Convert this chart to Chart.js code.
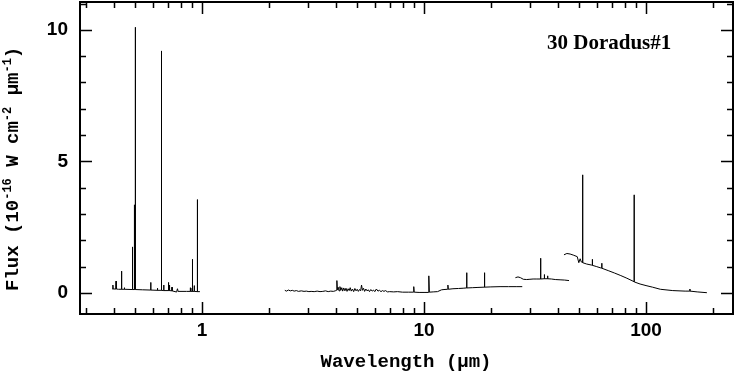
<!DOCTYPE html>
<html>
<head>
<meta charset="utf-8">
<script src="https://cdn.jsdelivr.net/npm/chart.js@4.4.0/dist/chart.umd.min.js"></script>
<style>
body { margin: 0; background: #fff; }
</style>
</head>
<body>
<canvas id="myChart" width="735" height="372"></canvas>
<script>
// Optical spectrum (0.39 - 0.98 um)
const optWave = [0.394, 0.3965, 0.3970, 0.3975, 0.4095, 0.4101, 0.4107, 0.4200, 0.4334, 0.4340, 0.4346,
    0.4465, 0.4471, 0.4477, 0.4855, 0.4861, 0.4866, 0.4954, 0.4959, 0.4964, 0.5002, 0.5007, 0.5012,
    0.5400, 0.5870, 0.5876, 0.5882, 0.6294, 0.6300, 0.6306, 0.6540, 0.6548, 0.6556, 0.6558, 0.6563, 0.6568,
    0.6579, 0.6584, 0.6589, 0.6712, 0.6720, 0.6735, 0.7060, 0.7065, 0.7070, 0.7130, 0.7136, 0.7142,
    0.7320, 0.7325, 0.7330, 0.7640, 0.7700, 0.7751, 0.7800, 0.8500, 0.8860, 0.8863, 0.8866,
    0.9010, 0.9015, 0.9020, 0.9063, 0.9069, 0.9075, 0.9225, 0.9229, 0.9233, 0.9525, 0.9531, 0.9537, 0.9780];
const optFlux = [0.15, 0.15, 0.30, 0.15, 0.15, 0.45, 0.15, 0.14, 0.14, 0.83, 0.14,
    0.14, 0.20, 0.14, 0.13, 1.75, 0.13, 0.13, 3.35, 0.13, 0.13, 10.1, 0.13,
    0.12, 0.11, 0.40, 0.11, 0.10, 0.18, 0.10, 0.10, 0.22, 0.10, 0.10, 9.2, 0.10,
    0.10, 0.50, 0.10, 0.09, 0.30, 0.09, 0.09, 0.40, 0.09, 0.09, 0.30, 0.09,
    0.08, 0.22, 0.08, 0.04, 0.08, 0.16, 0.06, 0.06, 0.06, 0.20, 0.06,
    0.06, 0.18, 0.06, 0.06, 1.28, 0.06, 0.06, 0.28, 0.06, 0.05, 3.55, 0.05, 0.05];

// ISO SWS (2.4 - 27.7 um)
const swsWave = [2.36, 2.40, 2.45, 2.50, 2.55, 2.60, 2.66, 2.72, 2.80, 2.88, 2.95, 3.03, 3.10, 3.20, 3.30,
    3.40, 3.50, 3.60, 3.70, 3.80, 3.90, 3.98, 4.03, 4.05, 4.07, 4.10, 4.14, 4.18, 4.22, 4.26, 4.30,
    4.35, 4.40, 4.45, 4.50, 4.55, 4.60, 4.65, 4.70, 4.76, 4.82, 4.88, 4.94, 5.00, 5.06, 5.12, 5.18,
    5.23, 5.28, 5.34, 5.40, 5.47, 5.54, 5.61, 5.68, 5.76, 5.84, 5.92, 6.00, 6.10, 6.20, 6.30, 6.40,
    6.50, 6.60, 6.70, 6.85, 7.00, 7.30, 7.60, 8.00, 8.50, 8.95, 8.99, 9.03, 9.50, 10.0, 10.45, 10.51,
    10.57, 11.0, 11.5, 12.0, 12.3, 12.75, 12.81, 12.87, 13.5, 14.3, 15.0, 15.49, 15.55, 15.61, 16.5,
    17.5, 18.65, 18.71, 18.77, 20.0, 22.0, 24.0, 26.0, 27.7];
const swsFlux = [0.10, 0.07, 0.11, 0.08, 0.10, 0.07, 0.09, 0.06, 0.08, 0.06, 0.07, 0.05, 0.06, 0.05, 0.07,
    0.05, 0.06, 0.08, 0.05, 0.07, 0.06, 0.08, 0.10, 0.47, 0.12, 0.22, 0.08, 0.24, 0.10, 0.20, 0.07,
    0.19, 0.08, 0.18, 0.06, 0.16, 0.09, 0.20, 0.07, 0.15, 0.05, 0.17, 0.08, 0.14, 0.06, 0.13, 0.08,
    0.30, 0.10, 0.18, 0.06, 0.15, 0.08, 0.12, 0.05, 0.13, 0.07, 0.11, 0.05, 0.15, 0.07, 0.10, 0.05,
    0.09, 0.06, 0.09, 0.04, 0.05, 0.04, 0.05, 0.03, 0.03, 0.03, 0.24, 0.03, 0.02, 0.02, 0.02, 0.65,
    0.03, 0.04, 0.05, 0.12, 0.13, 0.14, 0.30, 0.14, 0.16, 0.17, 0.18, 0.19, 0.77, 0.19, 0.20,
    0.21, 0.22, 0.77, 0.22, 0.23, 0.24, 0.24, 0.24, 0.24];

// ISO SWS band 4 (26 - 45 um)
const sws4Wave = [25.8, 26.5, 27.2, 28.0, 29.0, 30.0, 31.0, 32.0, 33.35, 33.48, 33.6, 34.72, 34.82, 34.92,
    35.9, 36.01, 36.12, 37.5, 39.0, 41.0, 43.0, 45.0];
const sws4Flux = [0.58, 0.61, 0.58, 0.52, 0.51, 0.52, 0.53, 0.53, 0.53, 1.32, 0.53, 0.54, 0.70, 0.54,
    0.54, 0.65, 0.54, 0.53, 0.51, 0.50, 0.49, 0.47];

// ISO LWS (43 - 190 um)
const lwsWave = [42.7, 44.0, 45.5, 47.0, 49.0, 49.8, 50.5, 51.1, 51.7, 51.8, 51.9, 54.0, 56.8, 57.2, 57.3, 57.4,
    60.0, 62.6, 63.1, 63.2, 63.3, 68.0, 72.0, 77.0, 82.0, 88.3, 88.4, 88.5, 94.0, 100, 107, 116, 132,
    150, 157.5, 157.7, 157.9, 170, 188];
const lwsFlux = [1.45, 1.50, 1.48, 1.44, 1.38, 1.15, 1.30, 1.18, 1.16, 4.49, 1.15, 1.10, 1.06, 1.05, 1.28, 1.05,
    1.00, 0.95, 0.95, 1.13, 0.94, 0.84, 0.76, 0.66, 0.56, 0.43, 3.73, 0.42, 0.34, 0.28, 0.22, 0.14, 0.09,
    0.07, 0.07, 0.15, 0.07, 0.04, 0.01];

// Axis ticks
const xMajorTicks = [1, 10, 100];
const xMinorTicks = [0.3, 0.4, 0.5, 0.6, 0.7, 0.8, 0.9, 2, 3, 4, 5, 6, 7, 8, 9,
    20, 30, 40, 50, 60, 70, 80, 90, 200];
const yMajorTicks = [0, 5, 10];
const yMinorTicks = [1, 2, 3, 4, 6, 7, 8, 9, 11];

const toPoints = (w, f) => w.map((x, i) => ({x: x, y: f[i]}));

function segment(w, f) {
    return {
        data: toPoints(w, f),
        borderColor: '#000',
        borderWidth: 1,
        pointRadius: 0,
        tension: 0,
        fill: false
    };
}

// inward ticks on all four sides, the frame and the texts
const framePlugin = {
    id: 'frame',
    afterDatasetsDraw(chart) {
        const ctx = chart.ctx;
        const a = chart.chartArea;
        const xs = chart.scales.x;
        const ys = chart.scales.y;
        ctx.save();
        ctx.strokeStyle = '#000';
        ctx.lineWidth = 1.5;
        ctx.beginPath();
        const xt = (v, len) => {
            const p = Math.round(xs.getPixelForValue(v)) + 0.5;
            ctx.moveTo(p, a.bottom); ctx.lineTo(p, a.bottom - len);
            ctx.moveTo(p, a.top); ctx.lineTo(p, a.top + len);
        };
        const yt = (v, len) => {
            const p = Math.round(ys.getPixelForValue(v)) + 0.5;
            ctx.moveTo(a.left, p); ctx.lineTo(a.left + len, p);
            ctx.moveTo(a.right, p); ctx.lineTo(a.right - len, p);
        };
        xMajorTicks.forEach(v => xt(v, 12));
        xMinorTicks.forEach(v => xt(v, 6));
        yMajorTicks.forEach(v => yt(v, 12));
        yMinorTicks.forEach(v => yt(v, 6));
        ctx.stroke();
        ctx.lineWidth = 2;
        ctx.strokeRect(a.left, a.top, a.right - a.left, a.bottom - a.top);
        ctx.restore();
    },
    afterDraw(chart) {
        const ctx = chart.ctx;
        ctx.save();
        ctx.fillStyle = '#000';
        ctx.textBaseline = 'alphabetic';

        // x title
        ctx.font = 'bold 19px "Liberation Mono"';
        ctx.textAlign = 'center';
        ctx.fillText('Wavelength (\u03bcm)', 406, 367);

        // y title with superscripts
        ctx.textAlign = 'left';
        ctx.translate(17.5, 291);
        ctx.rotate(-Math.PI / 2);
        const parts = [['Flux (10', false], ['-16', true], [' W cm', false], ['-2', true],
            [' \u03bcm', false], ['-1', true], [')', false]];
        let pos = 0;
        parts.forEach(([t, sup]) => {
            ctx.font = sup ? 'bold 12px "Liberation Mono"' : 'bold 19px "Liberation Mono"';
            ctx.fillText(t, pos, sup ? -7 : 0);
            pos += ctx.measureText(t).width;
        });
        ctx.restore();

        // object label
        ctx.save();
        ctx.font = 'bold 21px "Liberation Serif"';
        ctx.fillStyle = '#000';
        ctx.fillText('30 Doradus#1', 547, 49);
        ctx.restore();
    }
};

function buildChart() {
    const ctx = document.getElementById('myChart');

    new Chart(ctx, {
        type: 'line',
        data: {
            datasets: [
                segment(optWave, optFlux),
                segment(swsWave, swsFlux),
                segment(sws4Wave, sws4Flux),
                segment(lwsWave, lwsFlux)
            ]
        },
        options: {
            responsive: false,
            animation: false,
            devicePixelRatio: 1,
            layout: { padding: { top: 2, right: 2, left: 0, bottom: 0 } },
            plugins: {
                legend: { display: false },
                tooltip: { enabled: false }
            },
            scales: {
                x: {
                    type: 'logarithmic',
                    min: 0.282,
                    max: 246.5,
                    grid: { display: false, drawTicks: false },
                    border: { display: false },
                    afterBuildTicks: (s) => {
                        s.ticks = xMajorTicks.map(v => ({value: v}));
                    },
                    afterFit: (s) => {
                        s.height = 58;
                        s.paddingLeft = 0;
                        s.paddingRight = 0;
                    },
                    ticks: {
                        autoSkip: false,
                        maxRotation: 0,
                        padding: 5,
                        color: '#000',
                        font: { family: 'Liberation Sans', size: 19, weight: 'bold' },
                        callback: (v) => String(v)
                    }
                },
                y: {
                    type: 'linear',
                    min: -0.8,
                    max: 11.06,
                    grid: { display: false, drawTicks: false },
                    border: { display: false },
                    afterBuildTicks: (s) => {
                        s.ticks = yMajorTicks.map(v => ({value: v}));
                    },
                    afterFit: (s) => {
                        s.width = 80;
                        s.paddingTop = 0;
                        s.paddingBottom = 0;
                    },
                    ticks: {
                        padding: 12,
                        color: '#000',
                        font: { family: 'Liberation Sans', size: 19, weight: 'bold' },
                        callback: (v) => String(v)
                    }
                }
            }
        },
        plugins: [framePlugin]
    });
}

buildChart();
</script>
</body>
</html>
